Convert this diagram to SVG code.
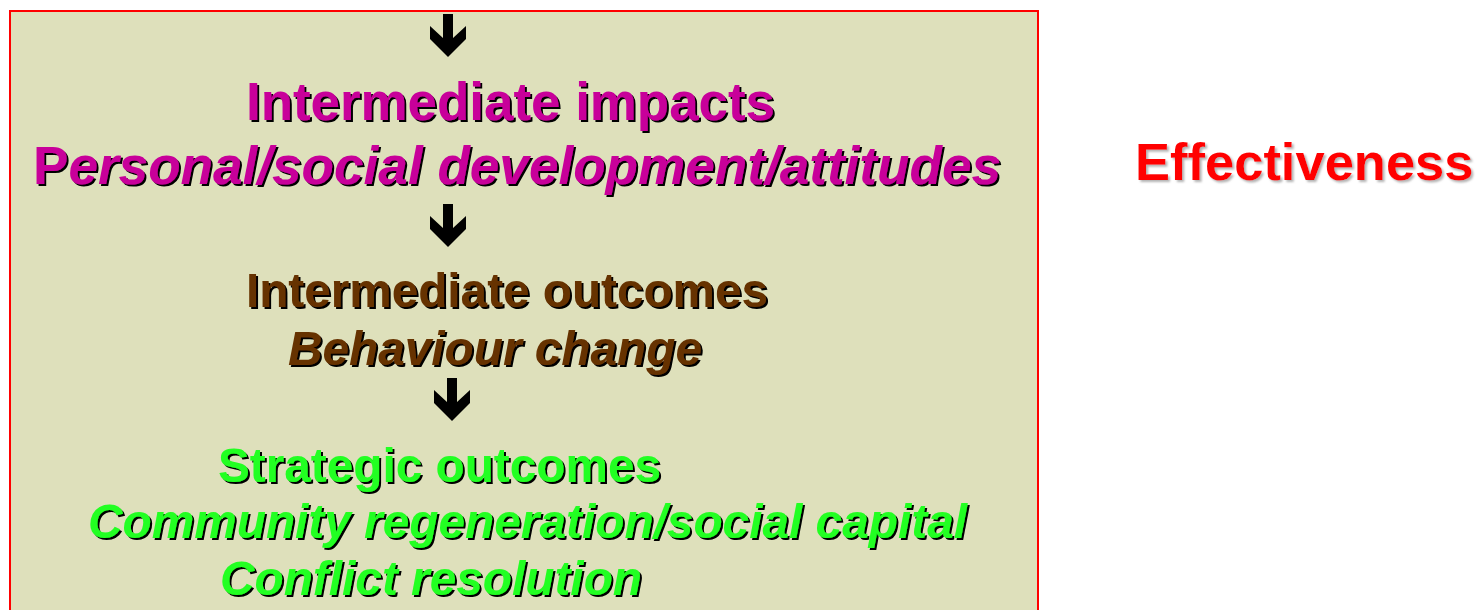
<svg xmlns="http://www.w3.org/2000/svg" width="1479" height="610" viewBox="0 0 1479 610">
  <defs>
    <style>
      .t { font-family: "Liberation Sans", Arial, sans-serif; font-weight: bold; }
      .it { font-style: italic; }
      .up { font-style: normal; }
      .mag { fill: #C8009A; filter: url(#sh); }
      .brn { fill: #663300; filter: url(#sh); }
      .grn { fill: #22FF22; filter: url(#sh); }
      .red { fill: #FF0000; filter: url(#shg); }
      .arr { fill: #000000; }
    </style>
    <filter id="sh" x="-5%" y="-20%" width="110%" height="140%">
      <feDropShadow dx="2" dy="2" stdDeviation="0" flood-color="#000000" flood-opacity="1"/>
    </filter>
    <filter id="shg" x="-5%" y="-20%" width="110%" height="140%">
      <feDropShadow dx="2" dy="2" stdDeviation="0.8" flood-color="#A0A0A0" flood-opacity="0.8"/>
    </filter>
    <path id="arrow" d="M13,0 H23 V24 L36,12 V25 L18,43 L0,25 V12 L13,24 Z"/>
  </defs>

  <g id="frame">
    <rect x="10" y="11" width="1028" height="620" fill="#DEE0BB" stroke="#FF0000" stroke-width="2"/>
  </g>

  <g id="connectors">
    <use href="#arrow" class="arr" transform="translate(430,14)"/>
    <use href="#arrow" class="arr" transform="translate(430,204)"/>
    <use href="#arrow" class="arr" transform="translate(434,378)"/>
  </g>

  <g id="node-intermediate-impacts">
    <text class="t mag" x="246" y="120" font-size="53" textLength="529" lengthAdjust="spacingAndGlyphs">Intermediate impacts</text>
    <text class="t mag it" x="33" y="184" font-size="53" textLength="968" lengthAdjust="spacingAndGlyphs"><tspan class="up">P</tspan>ersonal/social development/attitudes</text>
  </g>

  <g id="node-intermediate-outcomes">
    <text class="t brn" x="246" y="307" font-size="48" textLength="522" lengthAdjust="spacingAndGlyphs">Intermediate outcomes</text>
    <text class="t brn it" x="288" y="365" font-size="48" textLength="414" lengthAdjust="spacingAndGlyphs">Behaviour change</text>
  </g>

  <g id="node-strategic-outcomes">
    <text class="t grn" x="218" y="482" font-size="48" textLength="443" lengthAdjust="spacingAndGlyphs">Strategic outcomes</text>
    <text class="t grn it" x="88" y="538" font-size="48" textLength="879" lengthAdjust="spacingAndGlyphs">Community regeneration/social capital</text>
    <text class="t grn it" x="220" y="595" font-size="48" textLength="422" lengthAdjust="spacingAndGlyphs">Conflict resolution</text>
  </g>

  <g id="node-effectiveness">
    <text class="t red" x="1135" y="180" font-size="52.5">Effectiveness</text>
  </g>
</svg>
